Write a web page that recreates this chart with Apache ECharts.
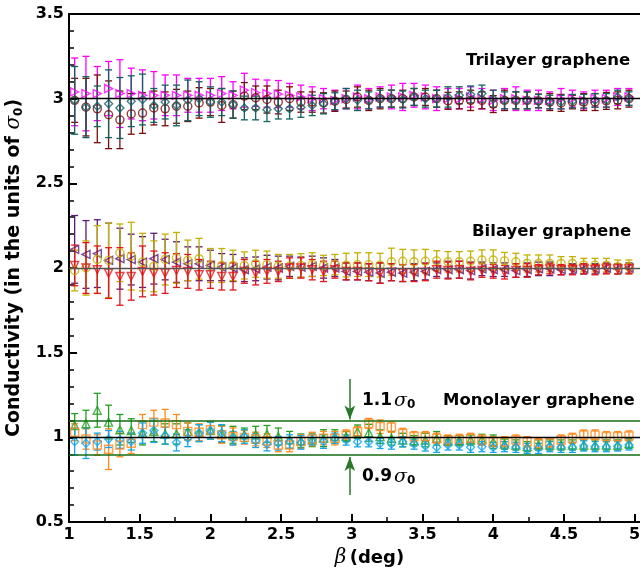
<!DOCTYPE html>
<html>
<head>
<meta charset="utf-8">
<script src="https://cdn.jsdelivr.net/npm/echarts@6/dist/echarts.min.js"></script>
<style>
html, body { margin: 0; padding: 0; background: #fff; }
#main { width: 640px; height: 571px; }
</style>
</head>
<body>
<div id="main"></div>
<script>
// beta (deg)
var beta = [1.04, 1.12, 1.20, 1.28, 1.36, 1.44, 1.52, 1.60, 1.68, 1.76,
	1.84, 1.92, 2.00, 2.08, 2.16, 2.24, 2.32, 2.40, 2.48, 2.56,
	2.64, 2.72, 2.80, 2.88, 2.96, 3.04, 3.12, 3.20, 3.28, 3.36,
	3.44, 3.52, 3.60, 3.68, 3.76, 3.84, 3.92, 4.00, 4.08, 4.16,
	4.24, 4.32, 4.40, 4.48, 4.56, 4.64, 4.72, 4.80, 4.88, 4.96];

// 三层 trilayer
var triM = [3.04, 3.03, 3.03, 3.06, 3.03, 3.03, 3.02, 3.02, 3.02, 3.02,
	3.02, 3.02, 3.02, 3.03, 3.02, 3.05, 3.035, 3.03, 3.027, 3.02,
	3.01, 3.0, 3.0, 2.99, 3.0, 3.01, 3.0, 3.01, 3.01, 3.01,
	3.02, 3.01, 3.0, 3.0, 3.0, 3.01, 3.0, 2.99, 3.0, 3.0,
	2.99, 2.99, 2.99, 3.0, 3.0, 2.99, 3.0, 3.0, 3.01, 3.01];
var triMErr = [0.2, 0.22, 0.16, 0.16, 0.2, 0.15, 0.15, 0.14, 0.12, 0.12,
	0.1, 0.1, 0.1, 0.1, 0.08, 0.1, 0.08, 0.08, 0.08, 0.07,
	0.07, 0.07, 0.06, 0.06, 0.06, 0.07, 0.06, 0.06, 0.07, 0.08,
	0.07, 0.07, 0.07, 0.06, 0.06, 0.06, 0.06, 0.06, 0.06, 0.07,
	0.06, 0.06, 0.05, 0.06, 0.05, 0.05, 0.05, 0.05, 0.05, 0.05];
var triR = [2.99, 2.95, 2.94, 2.905, 2.875, 2.91, 2.915, 2.945, 2.94, 2.955,
	2.955, 2.975, 2.98, 2.96, 2.965, 3.015, 3.005, 2.995, 2.98, 3.0,
	2.98, 2.98, 2.975, 2.985, 2.995, 3.01, 2.99, 3.0, 3.0, 3.0,
	3.01, 3.01, 3.0, 2.987, 2.99, 2.99, 2.99, 2.968, 2.99, 2.99,
	2.99, 2.987, 2.98, 2.975, 2.98, 2.98, 2.98, 2.987, 2.99, 3.0];
var triRErr = [0.13, 0.17, 0.2, 0.2, 0.17, 0.12, 0.12, 0.1, 0.1, 0.1,
	0.09, 0.09, 0.08, 0.1, 0.08, 0.08, 0.07, 0.08, 0.07, 0.07,
	0.06, 0.06, 0.06, 0.06, 0.05, 0.06, 0.06, 0.06, 0.05, 0.05,
	0.05, 0.05, 0.05, 0.05, 0.05, 0.06, 0.05, 0.05, 0.06, 0.05,
	0.05, 0.04, 0.05, 0.05, 0.04, 0.05, 0.05, 0.05, 0.05, 0.05];
var triT = [2.99, 2.95, 2.955, 2.97, 2.945, 2.985, 2.995, 2.96, 2.98, 2.96,
	2.99, 3.0, 2.98, 2.98, 2.965, 2.945, 2.945, 2.935, 2.94, 2.94,
	2.95, 2.96, 2.97, 2.985, 3.0, 2.99, 2.99, 3.0, 3.0, 2.995,
	3.01, 3.0, 3.0, 3.01, 3.02, 3.025, 3.03, 3.0, 2.99, 2.99,
	2.99, 2.985, 2.98, 2.98, 2.985, 2.985, 2.99, 2.99, 3.01, 3.0];
var triTErr = [0.2, 0.18, 0.12, 0.2, 0.18, 0.15, 0.15, 0.1, 0.1, 0.12,
	0.12, 0.1, 0.09, 0.08, 0.08, 0.07, 0.07, 0.07, 0.06, 0.06,
	0.06, 0.06, 0.06, 0.05, 0.06, 0.06, 0.05, 0.05, 0.05, 0.05,
	0.05, 0.05, 0.05, 0.06, 0.05, 0.05, 0.05, 0.05, 0.05, 0.05,
	0.05, 0.04, 0.04, 0.04, 0.04, 0.04, 0.04, 0.04, 0.04, 0.04];

// 双层 bilayer
var biP = [2.11, 2.08, 2.085, 2.045, 2.055, 2.05, 2.035, 2.055, 2.05, 2.035,
	2.025, 2.025, 2.015, 2.005, 2.0, 1.99, 1.995, 2.005, 2.0, 2.01,
	2.005, 2.01, 2.0, 2.0, 1.98, 1.98, 1.975, 1.97, 1.975, 1.97,
	1.975, 1.98, 1.99, 1.99, 1.99, 1.985, 1.995, 1.99, 1.99, 1.985,
	1.99, 1.995, 1.995, 1.99, 1.995, 1.995, 1.995, 2.0, 1.995, 2.0];
var biPErr = [0.2, 0.2, 0.2, 0.22, 0.18, 0.15, 0.15, 0.15, 0.12, 0.12,
	0.1, 0.1, 0.09, 0.08, 0.08, 0.07, 0.07, 0.07, 0.07, 0.06,
	0.06, 0.06, 0.06, 0.05, 0.05, 0.05, 0.05, 0.06, 0.05, 0.05,
	0.05, 0.05, 0.04, 0.05, 0.05, 0.05, 0.04, 0.04, 0.04, 0.04,
	0.04, 0.04, 0.04, 0.03, 0.03, 0.03, 0.03, 0.03, 0.03, 0.03];
var biY = [1.985, 2.0, 2.05, 2.045, 2.09, 2.07, 2.035, 2.01, 2.05, 2.06,
	2.045, 2.055, 2.015, 2.015, 2.015, 2.015, 2.025, 2.02, 2.01, 2.01,
	2.015, 2.02, 2.015, 2.02, 2.017, 2.02, 2.02, 2.017, 2.037, 2.04,
	2.037, 2.04, 2.042, 2.037, 2.037, 2.04, 2.047, 2.047, 2.042, 2.037,
	2.027, 2.027, 2.027, 2.027, 2.027, 2.017, 2.017, 2.017, 2.007, 2.007];
var biYErr = [0.12, 0.16, 0.2, 0.22, 0.17, 0.2, 0.17, 0.15, 0.15, 0.15,
	0.12, 0.12, 0.1, 0.1, 0.09, 0.08, 0.08, 0.08, 0.07, 0.07,
	0.07, 0.07, 0.06, 0.06, 0.07, 0.07, 0.07, 0.07, 0.08, 0.07,
	0.07, 0.07, 0.06, 0.06, 0.06, 0.06, 0.06, 0.06, 0.05, 0.05,
	0.05, 0.05, 0.05, 0.04, 0.04, 0.04, 0.04, 0.04, 0.04, 0.04];
var biR = [2.015, 2.0, 1.99, 1.97, 1.95, 1.95, 1.98, 1.97, 1.97, 1.985,
	1.98, 1.96, 1.96, 1.95, 1.95, 1.98, 1.97, 1.98, 1.98, 2.0,
	2.0, 1.99, 1.98, 1.99, 1.98, 1.98, 1.975, 1.97, 1.975, 1.97,
	1.97, 1.975, 1.99, 1.985, 1.99, 1.98, 1.985, 1.98, 1.975, 1.985,
	1.985, 1.99, 1.995, 1.99, 1.99, 1.995, 1.99, 1.995, 1.995, 1.995];
var biRErr = [0.12, 0.15, 0.14, 0.15, 0.17, 0.14, 0.15, 0.13, 0.12, 0.1,
	0.1, 0.09, 0.08, 0.08, 0.08, 0.07, 0.07, 0.07, 0.06, 0.06,
	0.06, 0.06, 0.06, 0.05, 0.05, 0.05, 0.05, 0.06, 0.05, 0.05,
	0.05, 0.05, 0.05, 0.05, 0.05, 0.05, 0.04, 0.04, 0.04, 0.04,
	0.04, 0.03, 0.03, 0.03, 0.03, 0.03, 0.03, 0.03, 0.03, 0.03];

// 单层 monolayer
var moG = [1.07, 1.08, 1.16, 1.09, 1.045, 1.04, 1.025, 1.035, 1.02, 1.02,
	1.035, 1.025, 1.04, 1.02, 1.015, 1.015, 1.015, 1.02, 1.005, 0.985,
	0.98, 0.985, 0.995, 1.005, 1.004, 1.033, 1.027, 1.004, 0.994, 0.984,
	0.98, 0.984, 0.994, 0.98, 0.98, 0.984, 0.988, 0.974, 0.96, 0.955,
	0.945, 0.955, 0.955, 0.955, 0.955, 0.955, 0.955, 0.955, 0.955, 0.964];
var moGErr = [0.07, 0.08, 0.1, 0.1, 0.09, 0.07, 0.07, 0.06, 0.06, 0.06,
	0.05, 0.05, 0.05, 0.05, 0.05, 0.04, 0.05, 0.05, 0.05, 0.05,
	0.04, 0.04, 0.05, 0.04, 0.03, 0.04, 0.05, 0.04, 0.04, 0.04,
	0.03, 0.04, 0.04, 0.03, 0.03, 0.03, 0.03, 0.04, 0.03, 0.03,
	0.03, 0.03, 0.03, 0.03, 0.03, 0.03, 0.03, 0.03, 0.03, 0.03];
var moO = [1.03, 0.99, 0.955, 0.93, 0.955, 0.965, 1.075, 1.09, 1.085, 1.075,
	1.035, 1.03, 1.045, 1.015, 1.005, 1.0, 0.99, 0.98, 0.955, 0.955,
	0.975, 0.99, 0.995, 0.995, 1.014, 1.033, 1.082, 1.063, 1.06, 1.023,
	1.004, 1.004, 0.994, 0.984, 0.988, 0.994, 0.984, 0.974, 0.974, 0.984,
	0.974, 0.964, 0.968, 0.984, 0.994, 1.014, 1.014, 1.004, 1.004, 1.008];
var moOErr = [0.05, 0.06, 0.06, 0.12, 0.07, 0.06, 0.06, 0.07, 0.08, 0.06,
	0.05, 0.05, 0.05, 0.05, 0.05, 0.04, 0.04, 0.04, 0.04, 0.04,
	0.04, 0.04, 0.04, 0.04, 0.03, 0.03, 0.03, 0.04, 0.03, 0.03,
	0.03, 0.03, 0.03, 0.03, 0.03, 0.03, 0.03, 0.03, 0.03, 0.03,
	0.03, 0.03, 0.03, 0.03, 0.03, 0.03, 0.03, 0.03, 0.03, 0.03];
var moB = [0.975, 0.965, 0.975, 0.99, 0.985, 0.975, 1.025, 1.04, 1.01, 0.97,
	0.995, 1.025, 1.04, 1.025, 0.995, 1.005, 0.98, 0.96, 0.965, 0.975,
	0.97, 0.985, 0.975, 0.995, 0.984, 0.974, 0.974, 0.964, 0.96, 0.974,
	0.96, 0.949, 0.941, 0.955, 0.955, 0.941, 0.945, 0.941, 0.945, 0.941,
	0.935, 0.935, 0.945, 0.941, 0.941, 0.949, 0.945, 0.945, 0.949, 0.955];
var moBErr = [0.08, 0.09, 0.05, 0.05, 0.05, 0.05, 0.06, 0.07, 0.05, 0.05,
	0.05, 0.05, 0.05, 0.05, 0.04, 0.04, 0.04, 0.04, 0.04, 0.04,
	0.04, 0.03, 0.04, 0.03, 0.03, 0.03, 0.03, 0.03, 0.03, 0.03,
	0.03, 0.03, 0.03, 0.03, 0.03, 0.03, 0.03, 0.03, 0.03, 0.03,
	0.03, 0.03, 0.03, 0.03, 0.03, 0.03, 0.03, 0.03, 0.03, 0.03];

var xTicks = [1, 1.5, 2, 2.5, 3, 3.5, 4, 4.5, 5];
var refLevels = [1, 2, 3];
var refColors = ['#000', '#555', '#000'];
var bandLevels = [0.9, 1.1];

var FONT = 'DejaVu Sans';

// 误差棒
function renderBar(params, api) {
	var x = api.value(0);
	var top = api.coord([x, api.value(2)]);
	var bot = api.coord([x, api.value(1)]);
	var cap = 3.5;
	var style = {
		stroke : api.visual('color'),
		lineWidth : 1.3
	};
	return {
		type : 'group',
		children : [
			{ type : 'line', shape : { x1 : top[0], y1 : top[1], x2 : bot[0], y2 : bot[1] }, style : style },
			{ type : 'line', shape : { x1 : top[0] - cap, y1 : top[1], x2 : top[0] + cap, y2 : top[1] }, style : style },
			{ type : 'line', shape : { x1 : bot[0] - cap, y1 : bot[1], x2 : bot[0] + cap, y2 : bot[1] }, style : style }
		]
	};
}

var barSeries = [];
var dotSeries = [];
function addSet(vals, errs, color, symbol, rotate) {
	var bars = [], dots = [];
	for (var i = 0; i < beta.length; i++) {
		bars.push([ beta[i], vals[i] - errs[i], vals[i] + errs[i] ]);
		dots.push([ beta[i], vals[i] ]);
	}
	barSeries.push({
		type : 'custom',
		renderItem : renderBar,
		itemStyle : { color : color, opacity : 0.85 },
		encode : { x : 0, y : [ 1, 2 ] },
		data : bars,
		silent : true
	});
	dotSeries.push({
		type : 'scatter',
		symbol : symbol,
		symbolRotate : rotate,
		symbolSize : 8,
		itemStyle : {
			color : 'rgba(255,255,255,0)',
			borderColor : color,
			borderWidth : 1.4
		},
		data : dots,
		silent : true
	});
}

addSet(triM, triMErr, '#ff00ff', 'triangle', -90);
addSet(triR, triRErr, '#7a0c0c', 'circle', 0);
addSet(triT, triTErr, '#12625f', 'diamond', 0);
addSet(biP, biPErr, '#5a1a78', 'triangle', 90);
addSet(biY, biYErr, '#c2b000', 'circle', 0);
addSet(biR, biRErr, '#e3141a', 'triangle', 180);
addSet(moG, moGErr, '#20a020', 'triangle', 0);
addSet(moO, moOErr, '#ff8a1e', 'rect', 0);
addSet(moB, moBErr, '#16a6ea', 'diamond', 0);

// 参考线
var refLines = [];
for (var i = 0; i < refLevels.length; i++) {
	refLines.push({ yAxis : refLevels[i], lineStyle : { color : refColors[i], width : 1.3, type : 'solid' } });
}
for (var j = 0; j < bandLevels.length; j++) {
	refLines.push({ yAxis : bandLevels[j], lineStyle : { color : '#136b13', width : 1.6, type : 'solid' } });
}

var lineHolder = {
	type : 'scatter',
	data : [],
	silent : true,
	z : 1,
	markLine : {
		silent : true,
		symbol : 'none',
		animation : false,
		label : { show : false },
		data : refLines
	}
};

var arrowHolder = {
	type : 'scatter',
	data : [],
	silent : true,
	markLine : {
		silent : true,
		symbol : [ 'none', 'arrow' ],
		symbolSize : [ 8, 14 ],
		animation : false,
		label : { show : false },
		lineStyle : { color : '#2a772a', width : 1.5, type : 'solid' },
		data : [
			[ { coord : [ 2.986, 1.344 ] }, { coord : [ 2.986, 1.106 ] } ],
			[ { coord : [ 2.986, 0.659 ] }, { coord : [ 2.986, 0.884 ] } ]
		]
	}
};

function sigmaText(num) {
	return '{b|' + num + '}{s|σ}{sub|0}';
}
var sigmaRich = {
	b : { fontFamily : FONT, fontWeight : 'bold', fontSize : 17, lineHeight : 20, verticalAlign : 'middle' },
	s : { fontFamily : 'DejaVu Serif', fontStyle : 'italic', fontSize : 19, lineHeight : 20, verticalAlign : 'middle', padding : [ 0, 0, 0, 2 ] },
	sub : { fontFamily : FONT, fontWeight : 'bold', fontSize : 12, lineHeight : 12, verticalAlign : 'bottom' }
};

function label(text, x, y) {
	return {
		type : 'text',
		x : x,
		y : y,
		style : {
			text : text,
			fill : '#000',
			font : 'bold 16.5px "DejaVu Sans"',
			textVerticalAlign : 'middle'
		}
	};
}

var chart = echarts.init(document.getElementById('main'));
var option = {
	animation : false,
	grid : { left : 69, top : 14, bottom : 49, right : -30, containLabel : false, outerBoundsMode : 'none' },
	xAxis : [ {
		type : 'value',
		min : 1,
		max : 5.25,
		interval : 0.5,
		name : '{g|β} {b|(deg)}',
		nameLocation : 'middle',
		nameGap : 19,
		nameTextStyle : {
			rich : {
				g : { fontFamily : 'DejaVu Serif', fontStyle : 'italic', fontSize : 20, color : '#000' },
				b : { fontFamily : FONT, fontWeight : 'bold', fontSize : 18, color : '#000' }
			}
		},
		axisLine : { lineStyle : { color : '#000', width : 2 } },
		axisTick : { inside : true, length : 8, lineStyle : { color : '#000', width : 2 } },
		minorTick : { show : true, splitNumber : 2, length : 5, lineStyle : { color : '#000', width : 1.5 } },
		axisLabel : {
			margin : 5,
			color : '#000',
			fontFamily : FONT,
			fontWeight : 'bold',
			fontSize : 16,
			formatter : function(v) {
				return xTicks.indexOf(v) >= 0 ? String(v) : '';
			}
		},
		splitLine : { show : false }
	}, {
		type : 'value',
		position : 'top',
		min : 1,
		max : 5.25,
		axisLine : { lineStyle : { color : '#000', width : 2 } },
		axisTick : { show : false },
		axisLabel : { show : false },
		splitLine : { show : false }
	} ],
	yAxis : {
		type : 'value',
		min : 0.5,
		max : 3.5,
		interval : 0.5,
		name : '{b|Conductivity (in the units of }{s|σ}{sub|0}{b|)}',
		nameLocation : 'middle',
		nameGap : 42,
		nameTextStyle : {
			rich : {
				b : { fontFamily : FONT, fontWeight : 'bold', fontSize : 19, lineHeight : 22, color : '#000', verticalAlign : 'middle' },
				s : { fontFamily : 'DejaVu Serif', fontStyle : 'italic', fontSize : 20, lineHeight : 22, color : '#000', verticalAlign : 'middle' },
				sub : { fontFamily : FONT, fontWeight : 'bold', fontSize : 12, lineHeight : 12, color : '#000', verticalAlign : 'bottom' }
			}
		},
		axisLine : { lineStyle : { color : '#000', width : 2 } },
		axisTick : { inside : true, length : 8, lineStyle : { color : '#000', width : 2 } },
		minorTick : { show : true, splitNumber : 5, length : 5, lineStyle : { color : '#000', width : 1.5 } },
		axisLabel : {
			margin : 5,
			color : '#000',
			fontFamily : FONT,
			fontWeight : 'bold',
			fontSize : 16
		},
		splitLine : { show : false }
	},
	graphic : [
		label('Trilayer graphene', 466, 61),
		label('Bilayer graphene', 472, 232),
		label('Monolayer graphene', 443, 401),
		{ type : 'text', x : 362, y : 401, style : { text : sigmaText('1.1'), rich : sigmaRich, fill : '#000', textVerticalAlign : 'middle' } },
		{ type : 'text', x : 362, y : 477, style : { text : sigmaText('0.9'), rich : sigmaRich, fill : '#000', textVerticalAlign : 'middle' } }
	],
	series : [ lineHolder ].concat(barSeries).concat(dotSeries).concat([ arrowHolder ])
};
chart.setOption(option);
</script>
</body>
</html>
